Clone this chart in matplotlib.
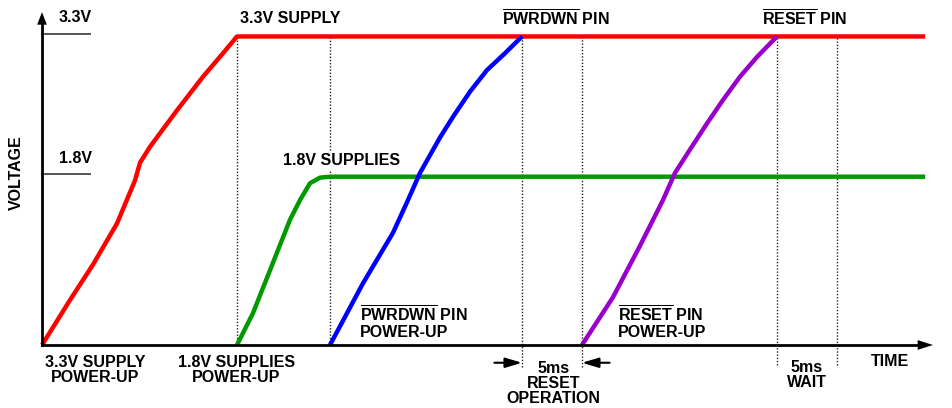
"""Power-up sequence timing diagram."""
import matplotlib
matplotlib.use("Agg")
import matplotlib.pyplot as plt

plt.rcParams['font.family'] = ['Liberation Sans', 'DejaVu Sans']
plt.rcParams['font.weight'] = 'bold'
plt.rcParams['mathtext.fontset'] = 'custom'
plt.rcParams['mathtext.rm'] = 'Liberation Sans:bold'
plt.rcParams['mathtext.bf'] = 'Liberation Sans:bold'

# time in ms, voltage in V
supply33_t = [0, 2.33, 4.25, 6.25, 7.75, 8.17, 9.0, 11.25, 13.42, 15.08, 16.25, 73.6]
supply33_v = [0, 0.48, 0.86, 1.30, 1.76, 1.95, 2.12, 2.51, 2.87, 3.12, 3.3, 3.3]

supply18_t = [16.25, 17.58, 19.25, 20.67, 21.5, 22.33, 23.17, 24.0, 73.6]
supply18_v = [0, 0.34, 0.88, 1.34, 1.55, 1.73, 1.79, 1.8, 1.8]

pwrdwn_t = [24.0, 26.75, 29.25, 30.5, 31.5, 33.17, 34.25, 35.67, 37.08, 38.58, 40.0]
pwrdwn_v = [0, 0.66, 1.20, 1.55, 1.84, 2.22, 2.44, 2.71, 2.94, 3.12, 3.3]

reset_t = [45.0, 47.58, 49.83, 51.75, 52.75, 54.0, 55.42, 56.75, 58.17, 59.58, 61.25]
reset_v = [0, 0.51, 1.06, 1.55, 1.84, 2.09, 2.37, 2.62, 2.87, 3.08, 3.3]

levels = [3.3, 1.8]
level_labels = ['3.3V', '1.8V']
events = [16.25, 24.0, 40.0, 45.0, 61.25, 66.25]
t_axis_end = 74.25

fig = plt.figure(figsize=(9.53, 4.08), dpi=100)
ax = fig.add_axes([0, 0, 1, 1])
ax.set_xlim(-3.5, 75.92)
ax.set_ylim(-0.674, 3.69)
ax.axis('off')

FS = 11.5

# dotted event markers
dot = dict(color='#222222', lw=1.0, ls=(0, (1, 1.3)), zorder=1)
ax.plot([events[0]] * 2, [0, 3.315], **dot)
ax.plot([events[1]] * 2, [0, 3.315], **dot)
for t in events[2:4]:
    ax.plot([t, t], [-0.235, 3.315], **dot)
for t in events[4:6]:
    ax.plot([t, t], [-0.214, 3.315], **dot)

# level ticks
for lv, lab in zip(levels, level_labels):
    ax.plot([0, 4.0], [lv + 0.03, lv + 0.03], color='#555555', lw=1.4, zorder=2)
    ax.text(2.8, lv + 0.2, lab, ha='center', va='center', fontsize=FS)

# curves
style = dict(lw=3.2, solid_capstyle='butt', solid_joinstyle='round')
ax.plot(supply33_t, supply33_v, color='#ff0000', zorder=3, **style)
ax.plot(supply18_t, supply18_v, color='#009900', zorder=3, **style)
ax.plot(pwrdwn_t, pwrdwn_v, color='#0000ff', zorder=4, **style)
ax.plot(reset_t, reset_v, color='#9900cc', zorder=4, **style)

# axes with arrows
ax.plot([0, 0], [0, 3.5], color='black', lw=2, zorder=5)
ax.annotate('', xy=(0, 3.56), xytext=(0, 3.38),
            arrowprops=dict(arrowstyle='-|>,head_length=0.9,head_width=0.35',
                            color='black', lw=0, shrinkA=0, shrinkB=0))
ax.plot([0, t_axis_end - 1.2], [0, 0], color='black', lw=2, zorder=5)
ax.annotate('', xy=(t_axis_end, 0), xytext=(t_axis_end - 1.4, 0),
            arrowprops=dict(arrowstyle='-|>,head_length=1.1,head_width=0.35',
                            color='black', lw=0, shrinkA=0, shrinkB=0))

# 5ms dimension arrows
arr = dict(arrowstyle='-|>,head_length=1.0,head_width=0.3', color='black', lw=1.5,
           shrinkA=0, shrinkB=0)
ax.annotate('', xy=(events[2], -0.19), xytext=(events[2] - 2.3, -0.19), arrowprops=arr)
ax.annotate('', xy=(events[3], -0.19), xytext=(events[3] + 2.3, -0.19), arrowprops=arr)

# labels
ax.text(-2.1, 1.84, 'VOLTAGE', rotation=90, ha='center', va='center', fontsize=FS)
ax.text(16.5, 3.49, '3.3V SUPPLY', ha='left', va='center', fontsize=FS)
ax.text(38.3, 3.49, r'$\overline{\mathrm{PWRDWN}}$ PIN', ha='left', va='center', fontsize=FS)
ax.text(60.0, 3.49, r'$\overline{\mathrm{RESET}}$ PIN', ha='left', va='center', fontsize=FS)
ax.text(20.1, 1.97, '1.8V SUPPLIES', ha='left', va='center', fontsize=FS, zorder=2,
        bbox=dict(facecolor='white', edgecolor='none', pad=1.5))
ax.text(26.5, 0.24, r'$\overline{\mathrm{PWRDWN}}$ PIN' + '\nPOWER-UP', ha='left',
        va='center', fontsize=FS, linespacing=1.0)
ax.text(48.0, 0.24, r'$\overline{\mathrm{RESET}}$ PIN' + '\nPOWER-UP', ha='left',
        va='center', fontsize=FS, linespacing=1.0)
ax.text(4.4, -0.27, '3.3V SUPPLY\nPOWER-UP', ha='center', va='center', fontsize=FS,
        linespacing=1.0)
ax.text(16.2, -0.27, '1.8V SUPPLIES\nPOWER-UP', ha='center', va='center', fontsize=FS,
        linespacing=1.0)
ax.text(42.6, -0.41, '5ms\nRESET\nOPERATION', ha='center', va='center', fontsize=FS,
        linespacing=1.0)
ax.text(63.75, -0.32, '5ms\nWAIT', ha='center', va='center', fontsize=FS, linespacing=1.0)
ax.text(70.7, -0.18, 'TIME', ha='center', va='center', fontsize=FS)

fig.savefig('out.png', dpi=100)
